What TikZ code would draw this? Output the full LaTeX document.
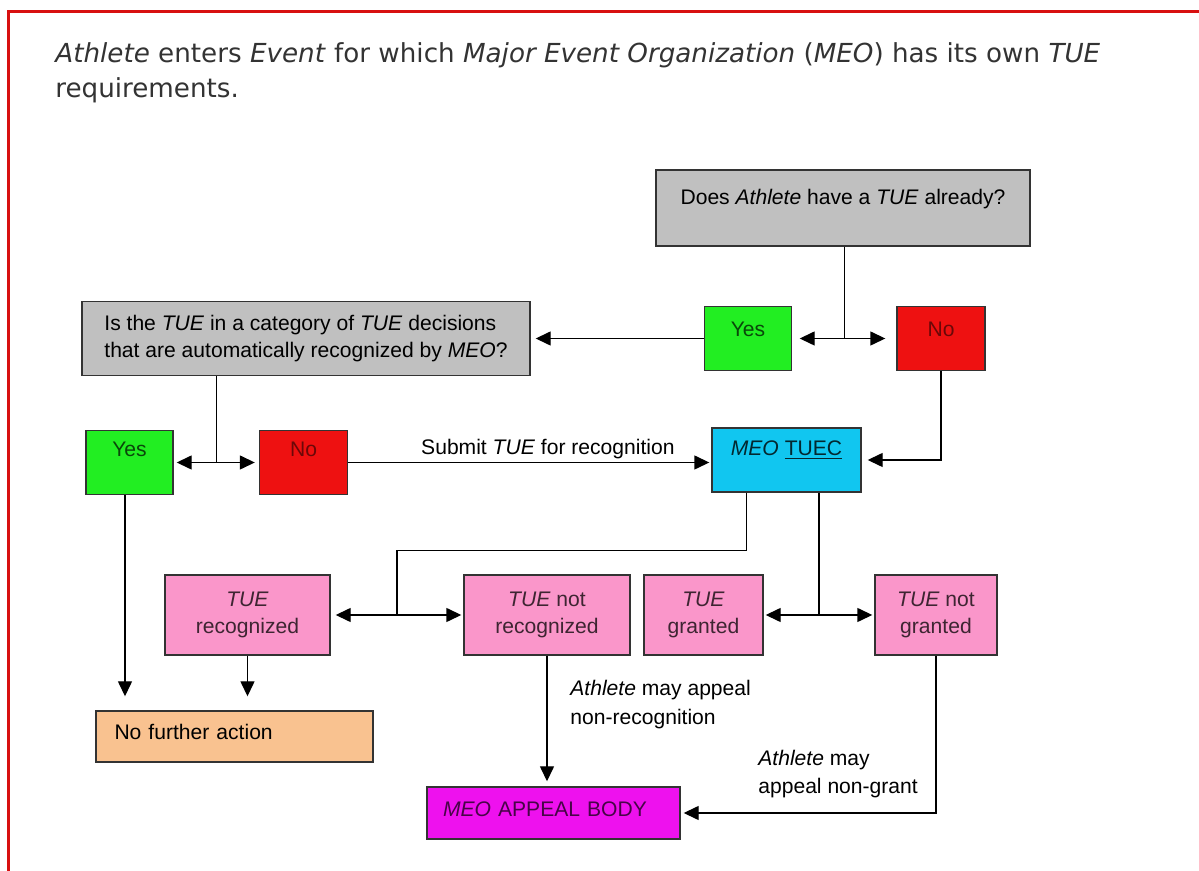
\documentclass[tikz,border=0pt]{standalone}
\usepackage{fontspec}
\setmainfont{Liberation Sans}
\newfontfamily\headfont{DejaVu Sans}
\usepackage{tikz}
\usetikzlibrary{positioning,arrows.meta}

\definecolor{qgray}{HTML}{C0C0C0}
\definecolor{ygreen}{HTML}{22EE22}
\definecolor{nred}{HTML}{EE1111}
\definecolor{tcyan}{HTML}{11C6F0}
\definecolor{opink}{HTML}{FA96CA}
\definecolor{epeach}{HTML}{F9C290}
\definecolor{amag}{HTML}{EE11EE}
\definecolor{framered}{HTML}{D81010}

\begin{document}
\begin{tikzpicture}[
  >={Triangle[length=0.3cm,width=0.28cm]},
  box/.style={draw=black!80, line width=0.8pt, rectangle, align=center, font=\fontsize{12}{15.5}\selectfont},
  ques/.style={box, fill=qgray},
  yesbox/.style={box, fill=ygreen, text=ygreen!30!black, minimum width=1.74cm, inner ysep=0pt},
  nobox/.style={box, fill=nred, text=nred!45!black, minimum width=1.76cm, inner ysep=0pt},
  comm/.style={box, fill=tcyan, text=tcyan!20!black, minimum width=2.98cm, inner ysep=0pt, text height=0.56cm, text depth=0.72cm},
  outc/.style={box, fill=opink, text=opink!25!black, minimum height=1.6cm},
  endbox/.style={box, fill=epeach, align=left, inner ysep=0pt},
  appl/.style={box, fill=amag, text=amag!30!black, align=left, inner ysep=0pt},
  note/.style={align=left, font=\fontsize{12}{16}\selectfont, inner sep=0pt}
]
  \useasboundingbox (0,0) rectangle (23.98,-17.42);
  % Frame and intro
  \draw[framered, line width=0.06cm] (0.16,-17.42) -- (0.16,-0.24) -- (23.98,-0.24);
  \node[anchor=north west, inner sep=0pt, align=left, text=black!80, font=\headfont\fontsize{14.9}{20}\selectfont] (intro) at (1.1,-0.84)
    {\textit{Athlete} enters \textit{Event} for which \textit{Major Event Organization} (\textit{MEO}) has its own \textit{TUE}\\requirements.};

  % Nodes
  \node[ques, minimum width=7.48cm, inner ysep=0pt, text height=0.7cm, text depth=0.82cm] (q1) at (16.86,-4.16) {Does \textit{Athlete} have a \textit{TUE} already?};
  \node[yesbox, text height=0.6cm, text depth=0.68cm] (yes1) at (14.96,-6.77) {Yes};
  \node[nobox, text height=0.6cm, text depth=0.68cm] (no1) at (18.82,-6.77) {No};
  \node[ques, minimum width=8.96cm, minimum height=1.48cm, align=left] (q2) at (6.12,-6.77) {Is the \textit{TUE} in a category of \textit{TUE} decisions\\that are automatically recognized by \textit{MEO}?};
  \node[yesbox, text height=0.52cm, text depth=0.76cm] (yes2) at (2.59,-9.25) {Yes};
  \node[nobox, text height=0.52cm, text depth=0.76cm] (no2) at (6.07,-9.25) {No};
  \node[comm] (tuec) at (15.73,-9.2) {\textit{MEO} \underline{TUEC}};
  \node[outc, minimum width=3.3cm] (recog) at (4.95,-12.3) {\textit{TUE}\\recognized};
  \node[outc, minimum width=3.32cm] (notrecog) at (10.94,-12.3) {\textit{TUE} not\\recognized};
  \node[outc, minimum width=2.38cm] (granted) at (14.07,-12.3) {\textit{TUE}\\granted};
  \node[outc, minimum width=2.44cm] (notgranted) at (18.72,-12.3) {\textit{TUE} not\\granted};
  \node[endbox, text width=4.8cm, inner xsep=0.37cm, text height=0.58cm, text depth=0.44cm] (nfa) at (4.69,-14.73) {No further action};
  \node[appl, text width=4.42cm, inner xsep=0.32cm, text height=0.6cm, text depth=0.44cm] (appeal) at (11.07,-16.26) {\textit{MEO} APPEAL BODY};
  \node[note, anchor=west] (lab1) at (11.4,-14.09) {\textit{Athlete} may appeal\\non-recognition};
  \node[note, anchor=west] (lab2) at (15.16,-15.48) {\textit{Athlete} may\\appeal non-grant};

  % Arrows
  \draw[<->, thick, shorten <=0.15cm, shorten >=0.22cm] (yes1) -- (no1) coordinate[midway] (j1);
  \draw[thick] (q1.south -| j1) -- (j1);
  \draw[->, thick, shorten >=0.1cm] (yes1) -- (q2);
  \draw[->, thick, shorten >=0.12cm] (no1) |- (tuec);
  \draw[<->, thick, shorten <=0.06cm, shorten >=0.08cm] (yes2) -- (no2) coordinate[midway] (j2);
  \draw[thick] (q2.south -| j2) -- (j2);
  \draw[->, thick, shorten >=0.04cm] (no2) -- (no2 -| tuec.west)
    node[pos=0.55, above, inner sep=1.5pt, font=\fontsize{12}{15}\selectfont] {Submit \textit{TUE} for recognition};
  \draw[<->, thick, shorten <=0.1cm, shorten >=0.04cm] (recog) -- (notrecog) coordinate[midway] (j3);
  \draw[thick] ([xshift=-0.8cm]tuec.south) -- ++(0,-1.16) -| (j3);
  \draw[<->, thick, shorten <=0.04cm, shorten >=0.04cm] (granted) -- (notgranted) coordinate[midway] (j4);
  \draw[thick] (tuec.south -| j4) -- (j4);
  \draw[->, thick, shorten >=0.28cm] ([xshift=-0.09cm]yes2.south) -- ([xshift=-0.09cm]yes2.south |- nfa.north);
  \draw[->, thick, shorten >=0.28cm] (recog) -- (recog |- nfa.north);
  \draw[->, thick, shorten >=0.1cm] (notrecog) -- (notrecog |- appeal.north);
  \draw[->, thick, shorten >=0.06cm] (notgranted) |- (appeal);
\end{tikzpicture}
\end{document}
